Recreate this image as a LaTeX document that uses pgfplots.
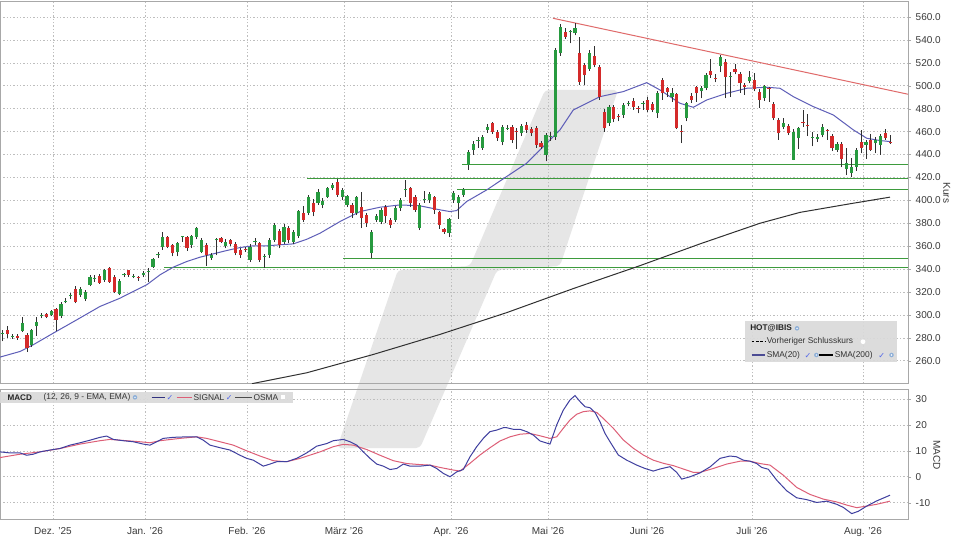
\documentclass[border=0pt]{standalone}
\usepackage{pgfplots}
\pgfplotsset{compat=1.18}
\usepackage{pgfplotstable}
\usepackage{fontspec}
\setmainfont{Liberation Sans}
\newfontfamily\symfont{DejaVu Sans}

\definecolor{cup}{HTML}{279A3F}
\definecolor{cdn}{HTML}{D42A2A}
\definecolor{wickc}{HTML}{303030}
\definecolor{smablue}{HTML}{5E5EB8}
\definecolor{smablack}{HTML}{303030}
\definecolor{trendred}{HTML}{E06A6A}
\definecolor{suppgreen}{HTML}{3D9B3D}
\definecolor{macdblue}{HTML}{3F3F9F}
\definecolor{sigred}{HTML}{DD5F77}
\definecolor{wm}{HTML}{E6E6E6}
\definecolor{gridc}{HTML}{BEBEBE}
\definecolor{framec}{HTML}{A8A8A8}
\definecolor{labc}{HTML}{3A3A3A}
\definecolor{legbg}{HTML}{DADADA}
\definecolor{gearc}{HTML}{8FB0D8}

% rising candles: index, open, high, low, close
\pgfplotstableread{
i o h l c
0 283.8 287 277 284.5
2 281 283 279 281.6
4 286 298 285 293
6 274 288 272 287
7 290 298 282 294
8 299 302 297 300
10 300 304 299 303
12 298.7 311 297 309.7
13 311.5 315 310 312.3
14 316.5 319 314 317.3
16 317 324 316 323
17 314 322 312 320
18 326 335 325 333
19 331.5 335 329 332.3
21 330.6 340 329 338.8
24 318 331 317 330
25 334.6 337 333 335.4
27 333.6 336 332 334.4
29 334.5 338 333 337
30 337.6 341 329 338.4
31 342 350 341 348.6
32 352 355 350 352.8
33 359 372 357 368.4
36 355 364 351 362.6
37 368 369 364 368.8
39 361 370 358 369
40 368 377 366 375.7
41 355 367 354 365.5
43 349.5 354 348 352
44 365.1 367 352 365.9
46 360 366 358 364
51 348 362 346 359.7
52 363.6 367 361 364.4
54 350.6 353 341 351.4
55 352 367 350 365.5
56 365.5 380 364 378.6
58 364 379 362 377
60 364 374 362 372
61 369 392 367 390.8
63 389 405 387 403.3
65 397.5 410 396 407.7
66 396.3 402 393 399
67 403.3 412 402 410.6
68 410.6 415 409 413.5
70 403.3 411 400 409
71 396 405 394 403.9
73 388.8 404 387 402.7
76 353.9 374 349.5 372.8
77 383 388 381 386.4
78 381.5 393 379 391.7
81 383 395 381 393
82 393 402 391 400.4
83 409.3 417.8 403.3 410.1
86 375.7 398 374 396
87 400 408 398 400.8
88 400 407 398 405.6
92 371.3 385 368 383.5
93 400.4 408 398 406.8
94 397.5 405 384 403.3
95 404.8 411 403 409.7
96 431 444 426.6 442.6
97 444 452 440 449
98 451.8 455 446 452.6
99 445.5 457 444 455.6
100 461.5 467 459 464.4
103 451.3 466 448 464.4
104 462.6 466 461 463.4
107 458.5 467 456 465
112 439.7 459 434 457
113 455.2 460 452 456
114 455.6 533 453 531.2
115 528.3 554 526 551.6
117 546.8 549 537 547.6
118 546 555 544 550.1
121 515 531 513 528.9
125 467.3 483 465 481.8
128 474.5 485 472 483.3
129 484.3 487 482 485.1
132 484.3 487 479 485.1
135 476 495 472 494
138 490.5 498 486 493.4
141 471.6 486 469 484.7
144 495 500 489 497.8
145 497.8 511 496 509.4
148 517.3 527 512 525.4
150 508.1 512 490 508.9
154 504.4 513 502 507.3
157 489 501 487 499.8
161 464.4 472 462 467.3
163 435.3 462 435 460
164 454.2 464 445 462.9
167 454.6 460 447 455.4
168 453.3 458 451 455.6
169 457 467 455 464.4
172 444 451 442 449.3
174 427.2 446 422 432.4
175 423.7 437 420 429.5
176 429.5 446 426 444
178 448.4 453 436 451.3
180 449.8 455 441 452.7
181 448.4 458 440 456.2
}\candup

% falling candles: index, open, high, low, close
\pgfplotstableread{
i o h l c
1 287 290.5 280 283.5
3 282 283.5 278.5 280
5 282.6 284 268 271
9 301 302 297 298
11 305 306 285.6 295.7
15 322.5 325 310 311.7
20 334 336 327 328
22 340.8 342 328 329
23 333.5 335 319 320.4
26 338.8 339.5 333 335
28 333.2 334 330 332.4
34 367.8 369 358 359.7
35 361 362 351 354
38 368 369 356 358
42 361 363 343 352.4
45 367 368 363 364
47 365 366 360 362
48 362 364 352 354
49 356.8 358 350 352.4
50 357.4 359 355 356.6
53 363 364 346 348
57 373 375 358 361
59 376 378 363 365.5
62 388.8 395 381 383
64 397.5 401 386 390
69 416.4 418.7 403 404.8
72 396 398 385 388.8
74 394 407.7 375.7 384.4
75 387.3 389 377 380
79 394.6 396 380 385.9
80 383 385 376 378.6
84 410.6 412 394 397.5
85 403.3 405 390 391.7
89 402.7 404 388 391.7
90 389.6 391 375 378.6
91 374.8 376 371 372.8
101 467.3 468 458 460
102 460 461 452 454.2
105 464.4 466 450 452.7
106 460.4 463 445 459.6
108 465.8 468 459 461.5
109 462 464 456 458.5
110 462.9 465 446 448.4
111 449.8 452 445 446.9
116 547.2 550 541 542.8
119 528.9 542.8 500.7 503.6
120 518 520 501 509.4
122 526 535 516 518
123 516.7 518 488 490.5
124 477.5 480 460 462.9
126 481.8 483 468 470.8
127 473.5 475 469 472.5
130 487 489 479 481.8
131 480.8 482 476 480
133 487.6 490 477 478.9
134 484.1 486 477 478.9
136 505 507 488 493.4
137 497.8 499 490 494.9
139 492.5 494 462 462.9
140 460.4 466 450 459.6
142 491.1 494 485 487.6
143 498.7 500 486 494
146 513.2 523.1 507 509.4
147 506.9 510 503 506.1
149 521 523 489 507.9
151 514.3 519 510 512.3
152 510.3 512 494 502.2
153 500.7 502 492 498.7
155 505 511 495 497
156 494.9 497 481 487.6
158 498.2 499 486 497.4
159 484.1 486 470 471.6
160 470 472 453 458.5
162 464.9 467 457 459.1
165 468.7 479 464 467.3
166 465.4 475 456 464.6
170 461 462 453 460.2
171 456 458 443 445.5
173 449.3 451 429 435.9
177 451.3 461 441 445.5
179 452.7 458 443 444
182 459.1 462 453 454.2
183 451.3 457 449 449.8
}\canddn

\pgfplotsset{
  candlewick/.style={draw=none, mark=none, forget plot,
    error bars/.cd, y dir=plus, y explicit, error mark=none,
    error bar style={line width=0.6pt, draw=wickc, solid}},
  candlebody/.style={draw=none, mark=none, forget plot,
    error bars/.cd, y dir=plus, y explicit, error mark=none,
    error bar style={line width=2.4pt, draw=#1, solid}},
  panel/.style={scale only axis, anchor=south west,
    xmin=0, xmax=908,
    axis line style={framec},
    xtick={53,145,247,344,451,548,647,752,863},
    xtick style={draw=none},
    ytick pos=right, yticklabel pos=right,
    tick align=outside, major tick length=2.25pt,
    ytick style={framec},
    yticklabel style={font=\fontsize{7.5}{9}\selectfont, text=labc},
    xticklabel style={font=\fontsize{7.5}{9}\selectfont, text=labc},
    grid=major, major grid style={gridc, dash pattern=on 1pt off 1.5pt, line width=0.5pt}},
}

\begin{document}
\begin{tikzpicture}
\path[use as bounding box] (0pt,0pt) rectangle (720pt,405pt);
\fill[white] (0pt,0pt) rectangle (720pt,405pt);

% watermark
\begin{scope}[x=0.75pt, y=-0.75pt, yshift=405pt]
\fill[wm, rounded corners=3pt] (545,90) -- (618,90) -- (560,266) -- (497,270) -- (420,448) -- (337,448) -- (398,270) -- (470,266) -- cycle;
\end{scope}

% price panel
\begin{axis}[panel, at={(0pt,117.5pt)}, width=681pt, height=286.35pt,
  ymin=240.3, ymax=573.5,
  xticklabels={},
  ytick={260,280,...,560},
  yticklabel={\pgfmathprintnumber[fixed,fixed zerofill,precision=1,assume math mode=true]{\tick}},
]
% support / resistance lines
\addplot[suppgreen, line width=0.75pt] coordinates {(462,430.9) (908,430.9)};
\addplot[suppgreen, line width=0.75pt] coordinates {(307,419.3) (908,419.3)};
\addplot[suppgreen, line width=0.75pt] coordinates {(457,409.7) (908,409.7)};
\addplot[suppgreen, line width=0.75pt] coordinates {(343,349.6) (908,349.6)};
\addplot[suppgreen, line width=0.75pt] coordinates {(164,341.6) (908,341.6)};
% trend line
\addplot[trendred, line width=0.75pt] coordinates {(553,558.9) (908,492.6)};
% SMA(200)
\addplot[smablack, line width=0.75pt] coordinates {
(252,240) (306.7,249.5) (373.3,265.5) (440,283) (506.7,302) (573.3,323)
(640,343) (700,362) (760,380) (800,389.5) (850,397) (890,402.8)};
% SMA(20)
\addplot[smablue, line width=0.75pt] coordinates {
(0,263.2) (20,268.1) (33.3,274) (53.3,284.1) (76.7,295.7) (100,307.4) (120,314.6)
(133.3,320.5) (146.7,326.3) (160,335) (173.3,341.7) (186.7,346.6) (200,350.4)
(213.3,353.3) (226.7,356.2) (240,358.8) (253.3,360.3) (266.7,360.3) (280,361.2)
(293.3,362) (306.7,366) (320,371.3) (340,381.5) (360,390.2) (380,394) (400,396)
(420,395.2) (440,391.7) (450,390.2) (456.7,391.1) (466.7,399) (486.7,409.1)
(506.7,420.8) (526.7,432.4) (540,444) (550,452.7) (560,461.5) (573.3,478.9)
(586.7,484.7) (600,490.5) (623.3,494.9) (646.7,502.7) (660,496.3) (680,484.7)
(693.3,481.2) (706.7,487.6) (726.7,493.4) (746.7,497.8) (766.7,498.7) (780,497.8)
(793.3,490.5) (813.3,481.8) (833.3,474.5) (853.3,461.5) (866.7,454.2) (880,452.2)
(890,451.3)};
% candles
\addplot[candlewick] table[x expr=2.7+4.85*\thisrow{i}, y=l, y error plus expr=\thisrow{h}-\thisrow{l}] {\candup};
\addplot[candlewick] table[x expr=2.7+4.85*\thisrow{i}, y=l, y error plus expr=\thisrow{h}-\thisrow{l}] {\canddn};
\addplot[candlebody=cup] table[x expr=2.7+4.85*\thisrow{i}, y=o, y error plus expr=\thisrow{c}-\thisrow{o}] {\candup};
\addplot[candlebody=cdn] table[x expr=2.7+4.85*\thisrow{i}, y=c, y error plus expr=\thisrow{o}-\thisrow{c}] {\canddn};
\end{axis}

% MACD panel
\begin{axis}[panel, at={(0pt,15.5pt)}, width=681pt, height=97.5pt,
  ymin=-16.4, ymax=33.7,
  ytick={-10,0,10,20,30},
  yticklabel={\pgfmathprintnumber[assume math mode=true]{\tick}},
  xticklabels={Dez. '25,Jan. '26,Feb. '26,März '26,Apr. '26,Mai '26,Juni '26,Juli '26,Aug. '26},
]
\addplot[sigred, line width=0.75pt] coordinates {
(0,7.4) (20,8.7) (40,9.6) (60,10.9) (80,12.6) (100,13.9) (110,14.4) (120,14.1)
(140,13.5) (150,13.1) (160,13.9) (180,14.8) (196.7,15.4) (206.7,14.8) (220,13.5)
(233.3,12.2) (246.7,10) (260,8) (273.3,6.2) (286.7,5.8) (300,7.1) (320,9.6)
(333.3,11.6) (343.3,12.5) (353.3,12.2) (366.7,10.5) (380,8.3) (393.3,6.2)
(406.7,5.1) (420,4.7) (430,4.5) (440,3.6) (453.3,2.6) (460,2.2) (470,5.2) (480,8.4)
(490,11.2) (500,13.8) (510,15.4) (520,16.4) (530,16.7) (540,15.8) (550,14.8)
(556.7,15.4) (563.3,18.7) (570,21.9) (576.7,24.1) (583.3,25.1) (590,25.4)
(596.7,24.8) (603.3,22.5) (613.3,18.7) (623.3,14.2) (633.3,11.0) (643.3,8.4)
(653.3,6.4) (663.3,5.2) (673.3,4.3) (683.3,3.0) (693.3,1.7) (700,1.7) (713.3,3.2)
(726.7,4.9) (740,6) (750,6) (760,5.1) (770,4.5) (783.3,0.6) (796.7,-4.1)
(810,-6.8) (823.3,-8.6) (836.7,-9.7) (846.7,-10.9) (856.7,-11.9) (866.7,-11.3)
(876.7,-10.6) (890,-9.4)};
\addplot[macdblue, line width=0.75pt] coordinates {
(0,9.6) (10,9.2) (20,9.2) (26.7,8.3) (33.3,8.7) (40,9.6) (50,10.3) (60,10.9)
(70,12.2) (80,13.1) (90,14.1) (100,15.2) (106.7,15.7) (113.3,14.4) (123.3,13.9)
(133.3,13.5) (143.3,12.6) (150,12.2) (156.7,13.5) (163.3,14.8) (173.3,15.2)
(186.7,15.4) (196.7,15.4) (203.3,14.1) (210,12.2) (220,11.2) (230,10.3) (240,8.3)
(246.7,7.1) (253.3,6.4) (263.3,4.1) (270,4.9) (276.7,5.8) (286.7,5.8) (296.7,7.1)
(306.7,9.2) (316.7,11.8) (326.7,12.8) (333.3,13.9) (343.3,14.4) (350,13.5)
(356.7,12.2) (363.3,9.6) (370,7.1) (376.7,4.9) (383.3,4.1) (390,2.8) (396.7,3.2)
(403.3,4.9) (410,4.1) (420,4.1) (430,4.5) (436.7,3.2) (443.3,1.3) (450,0)
(456.7,1.9) (463.3,2.8) (470,7.7) (476.7,11.6) (483.3,14.8) (490,17.4) (496.7,18.0)
(503.3,18.9) (506.7,18.9) (513.3,18.3) (520,18.3) (526.7,17.4) (533.3,16.1)
(540,13.8) (550,12.6) (556.7,20.0) (563.3,25.7) (570,29.6) (575,31.3) (580,29.0)
(585,27.0) (590,26.6) (595,24.8) (600,21.2) (605,16.7) (610,13.5) (618.3,8.4)
(626.7,6.4) (636.7,4.5) (645,3.2) (653.3,2.2) (660,3.0) (670,3.9) (676.7,1.7)
(681.7,-0.9) (690,0) (700,1.5) (710,3.8) (720,7.1) (730,8) (736.7,7.7) (743.3,6.4)
(750,6) (756.7,5.1) (761.7,3.6) (768.3,2.9) (776.7,-1.3) (786.7,-5.4) (796.7,-8.1)
(806.7,-8.8) (816.7,-9.9) (826.7,-9.4) (836.7,-10.6) (843.3,-11.8) (851.7,-14.2)
(858.3,-13.3) (866.7,-11.3) (876.7,-9.3) (890,-7.1)};
\end{axis}

% overlays in pixel coordinates
\begin{scope}[x=0.75pt, y=-0.75pt, yshift=405pt]
% axis titles
\node[rotate=-90, font=\fontsize{7.5}{9}\selectfont, text=labc] at (946.7,193) {Kurs};
\node[rotate=-90, font=\fontsize{7.5}{9}\selectfont, text=labc] at (936.7,455) {MACD};

% price legend
\fill[legbg, opacity=0.92] (745,320.7) rectangle (896.7,361.7);
\node[anchor=west, inner sep=0, font=\fontsize{6.2}{7}\selectfont\bfseries, text=black!85] at (750,328.3) {HOT@IBIS};
\fill[gearc] (797,328.3) circle[radius=1.7pt];
\fill[white] (797,328.3) circle[radius=0.6pt];
\draw[black, line width=0.6pt, dash pattern=on 2pt off 1.2pt] (751.7,341.7) -- (765,341.7);
\node[anchor=west, inner sep=0, font=\fontsize{6.3}{7}\selectfont, text=black!80] at (766.5,341.7) {Vorheriger Schlusskurs};
\fill[white] (863,341.7) circle[radius=1.8pt];
\draw[smablue!80!black, line width=0.9pt] (751.7,355) -- (765,355);
\node[anchor=west, inner sep=0, font=\fontsize{6.3}{7}\selectfont, text=black!80] at (766.5,355) {SMA(20)};
\node[inner sep=0, font=\symfont\fontsize{6}{7}\selectfont, text=gearc!60!blue] at (808,355.5) {✓};
\fill[gearc] (816.3,355) circle[radius=1.7pt];
\fill[white] (816.3,355) circle[radius=0.6pt];
\draw[black, line width=0.9pt] (818.5,355) -- (833,355);
\node[anchor=west, inner sep=0, font=\fontsize{6.3}{7}\selectfont, text=black!80] at (834.5,355) {SMA(200)};
\node[inner sep=0, font=\symfont\fontsize{6}{7}\selectfont, text=gearc!60!blue] at (881.7,355.5) {✓};
\fill[gearc] (891.5,355) circle[radius=1.7pt];
\fill[white] (891.5,355) circle[radius=0.6pt];

% MACD legend
\fill[legbg, opacity=0.92] (0,391.7) rectangle (293.3,402.7);
\node[anchor=west, inner sep=0, font=\fontsize{6.1}{7}\selectfont\bfseries, text=black!85] at (7.3,397.3) {MACD};
\node[anchor=west, inner sep=0, font=\fontsize{6.3}{7}\selectfont, text=black!80] at (43.3,397.3) {(12, 26, 9 - EMA, EMA)};
\fill[gearc] (135,397.3) circle[radius=1.7pt];
\fill[white] (135,397.3) circle[radius=0.6pt];
\draw[macdblue!80!black, line width=0.9pt] (151.7,397.3) -- (165,397.3);
\node[inner sep=0, font=\symfont\fontsize{6}{7}\selectfont, text=gearc!60!blue] at (170,397.8) {✓};
\draw[sigred, line width=0.9pt] (176.7,397.3) -- (191.7,397.3);
\node[anchor=west, inner sep=0, font=\fontsize{6.3}{7}\selectfont, text=black!80] at (193.3,397.3) {SIGNAL};
\node[inner sep=0, font=\symfont\fontsize{6}{7}\selectfont, text=gearc!60!blue] at (229.3,397.8) {✓};
\draw[black!70, line width=0.9pt] (235,397.3) -- (251.7,397.3);
\node[anchor=west, inner sep=0, font=\fontsize{6.3}{7}\selectfont, text=black!80] at (253.3,397.3) {OSMA};
\fill[white] (281,395.3) rectangle (285,399.3);
\end{scope}
\end{tikzpicture}
\end{document}
